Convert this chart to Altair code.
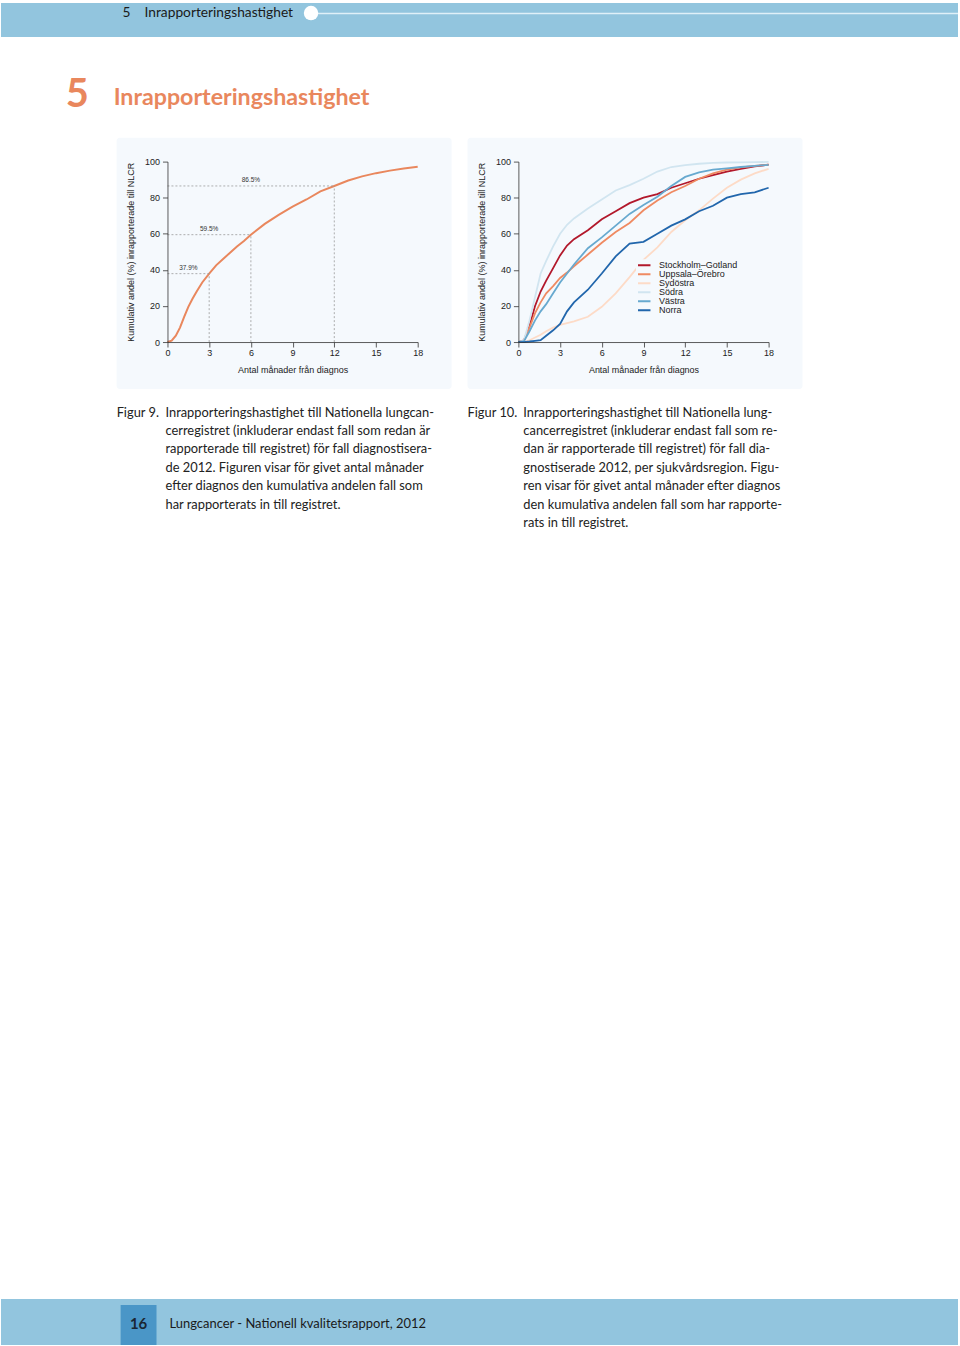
import altair as alt
import pandas as pd

# ---------------- data ----------------
months_all = [0, 0.3, 0.6, 0.9, 1.2, 1.5, 1.8, 2.1, 2.5, 3, 3.5, 4, 4.5, 5, 5.5, 6,
              7, 8, 9, 10, 11, 12, 13, 14, 15, 16, 17, 18]
pct_all = [0, 0.8, 3.5, 8, 14, 19.5, 24, 28, 33, 37.9, 42.5, 46, 49.5, 53, 56, 59.5,
           65.5, 70.5, 75, 79, 83.5, 86.5, 89.5, 91.8, 93.6, 95, 96.2, 97.2]

guide_months = [3, 6, 12]
guide_pct = [37.9, 59.5, 86.5]
guide_labels = ["37.9%", "59.5%", "86.5%"]

months_reg = [0, 0.4, 0.8, 1.2, 1.6, 2, 2.5, 3, 3.5, 4, 5, 6, 7, 8, 9, 10, 11, 12,
              13, 14, 15, 16, 17, 18]
regions = ["Stockholm–Gotland", "Uppsala–Örebro", "Sydöstra", "Södra", "Västra", "Norra"]
region_colors = ["#b2182b", "#ef8a62", "#fddbc7", "#d1e5f0", "#67a9cf", "#2166ac"]
stockholm = [0, 1, 9, 20, 28, 34, 41, 48, 53.5, 57, 62, 68, 72.5, 77, 80, 82, 85.5, 88,
             90.5, 92.5, 94.5, 96, 97.3, 98.3]
uppsala = [0, 0.5, 8, 16, 22, 27, 31, 35.5, 38.5, 42, 48.5, 55, 61, 66, 73, 78.5, 83,
           86.5, 90.5, 93.5, 95.5, 96.8, 97.6, 98.3]
sydostra = [0, 0, 1, 2.5, 4, 6, 8, 9.5, 10.5, 11.5, 14, 19.5, 27, 36, 45.5, 52.5, 61,
            67.5, 73, 79.5, 85.5, 90, 93.5, 96]
sodra = [0, 1, 12, 25, 38, 45, 53, 60, 65, 68.5, 74, 79, 84, 87, 90.5, 94.5, 97, 98,
         98.8, 99.3, 99.5, 99.6, 99.7, 99.8]
vastra = [0, 0.5, 6, 12, 17, 21, 27, 33, 38, 43, 52, 58, 64.5, 71, 76, 80.5, 86.5, 91.5,
          94, 95.5, 96.3, 97, 97.6, 98.2]
norra = [0, 0, 0.3, 0.7, 1, 3.5, 6.5, 10, 17, 22, 29, 38, 47.5, 54.5, 55.5, 60, 64.5,
         68, 72.5, 75.5, 80, 82, 83, 85.5]
series = [stockholm, uppsala, sydostra, sodra, vastra, norra]

x_ticks = [0, 3, 6, 9, 12, 15, 18]
y_ticks = [0, 20, 40, 60, 80, 100]

x_title = "Antal månader från diagnos"
y_title = "Kumulativ andel (%) inrapporterade till NLCR"

caption1_head = "Figur 9."
caption1 = [
    "Inrapporteringshastighet till Nationella lungcan-",
    "cerregistret (inkluderar endast fall som redan är",
    "rapporterade till registret) för fall diagnostisera-",
    "de 2012. Figuren visar för givet antal månader",
    "efter diagnos den kumulativa andelen fall som",
    "har rapporterats in till registret.",
]
caption2_head = "Figur 10."
caption2 = [
    "Inrapporteringshastighet till Nationella lung-",
    "cancerregistret (inkluderar endast fall som re-",
    "dan är rapporterade till registret) för fall dia-",
    "gnostiserade 2012, per sjukvårdsregion. Figu-",
    "ren visar för givet antal månader efter diagnos",
    "den kumulativa andelen fall som har rapporte-",
    "rats in till registret.",
]
header_num = "5"
header_title = "Inrapporteringshastighet"
footer_page = "16"
footer_text = "Lungcancer - Nationell kvalitetsrapport, 2012"

# ---------------- tables ----------------
df_all = pd.DataFrame({"month": months_all, "pct": pct_all})
df_guides = pd.DataFrame({"month": guide_months, "pct": guide_pct, "label": guide_labels})
df_guides["zero"] = 0
df_guides["half"] = df_guides["month"] / 2
rows = []
for r, vals in zip(regions, series):
    for m, v in zip(months_reg, vals):
        rows.append({"region": r, "month": m, "pct": v})
df_reg = pd.DataFrame(rows)
one = alt.InlineData(values=[{"a": 1}])

W, H = 251, 181
PANEL_BG = "#f5f9fd"
ORANGE = "#e9875d"
BAND = "#92c5de"
AXFONT = "Liberation Sans"
PAGEFONT = "Lato"
CAP = 12.9

xscale = alt.Scale(domain=[0, 18], nice=False, zero=False)
yscale = alt.Scale(domain=[0, 100], nice=False)
xaxis = alt.Axis(values=x_ticks, title=x_title, labelPadding=2, titlePadding=8, zindex=1,
                 labelFlush=False, labelOverlap=False)
yaxis = alt.Axis(values=y_ticks, title=y_title, labelPadding=3, titlePadding=9, zindex=1,
                 labelFlush=False, labelOverlap=False)


def X(field):
    return alt.X(field, scale=xscale, axis=xaxis)


def Y(field):
    return alt.Y(field, scale=yscale, axis=yaxis)


def rect(x1, x2, y1, y2, color, radius=0):
    return alt.Chart(one).mark_rect(color=color, cornerRadius=radius).encode(
        x=alt.value(x1), x2=alt.value(x2), y=alt.value(y1), y2=alt.value(y2))


def text(x, y, t, size, color="#222222", font=PAGEFONT, weight="normal", align="left",
         line_height=None):
    kw = dict(font=font, fontSize=size, color=color, fontWeight=weight, align=align,
              baseline="alphabetic")
    if line_height is not None:
        kw["lineHeight"] = line_height
    return alt.Chart(one).mark_text(**kw).encode(
        x=alt.value(x), y=alt.value(y), text=alt.value(t))


# page-level decorations (coordinates relative to panel-1 plot origin at page (167,159))
page_bg = rect(-167, 793, -159, 1187, "#ffffff")
header_band = rect(-167, 793, -159, -125, BAND)
header_line = alt.Chart(one).mark_rule(color="#dff0f8", strokeWidth=1.6).encode(
    x=alt.value(151), x2=alt.value(793), y=alt.value(-148.5))
header_dot = alt.Chart(one).mark_circle(color="#ffffff", opacity=1, size=210).encode(
    x=alt.value(144), y=alt.value(-149))
header_t1 = text(-45, -145, header_num, 13.8, color="#1a1a1a")
header_t2 = text(-23, -145, header_title, 13.8, color="#1a1a1a")
title_num = text(-102, -55, header_num, 40, color=ORANGE, weight="bold")
title_txt = text(-54, -57, header_title, 23.3, color=ORANGE, weight="bold")
footer_band = rect(-167, 793, 1141, 1187, BAND)
footer_box = rect(-47, -11, 1147, 1187, "#4a96c7")
footer_num = text(-29, 1171, footer_page, 15, color="#1a2633", weight="bold", align="center")
footer_txt = text(2, 1170, footer_text, 13, color="#1a1a1a")
panel1_bg = rect(-51, 285, -24, 228, PANEL_BG, 3)
cap1_head = text(-51, 256, caption1_head, CAP)
cap1_body = text(-2, 256, caption1, CAP, line_height=18.4)

curve1 = alt.Chart(df_all).mark_line(color=ORANGE, strokeWidth=2).encode(
    x=X("month:Q"), y=Y("pct:Q"))
g_h = alt.Chart(df_guides).mark_rule(color="#9a9a9a", strokeDash=[2, 2], strokeWidth=0.8).encode(
    x=X("zero:Q"), x2="month:Q", y=Y("pct:Q"))
g_v = alt.Chart(df_guides).mark_rule(color="#9a9a9a", strokeDash=[2, 2], strokeWidth=0.8).encode(
    x=X("month:Q"), y=Y("zero:Q"), y2="pct:Q")
g_t = alt.Chart(df_guides).mark_text(font=AXFONT, fontSize=6.5, color="#333333", dy=-4,
                                     baseline="alphabetic").encode(
    x=X("half:Q"), y=Y("pct:Q"), text="label:N")

panel1 = alt.layer(
    page_bg, header_band, header_line, header_dot, header_t1, header_t2,
    title_num, title_txt, footer_band, footer_box, footer_num, footer_txt,
    panel1_bg, cap1_head, cap1_body, curve1, g_h, g_v, g_t,
).properties(width=W, height=H)

# panel 2 (coordinates relative to panel-2 plot origin at page (519,159))
panel2_bg = rect(-51, 285, -24, 228, PANEL_BG, 3)
cap2_head = text(-51, 256, caption2_head, CAP)
cap2_body = text(5, 256, caption2, CAP, line_height=18.4)
curves2 = alt.Chart(df_reg).mark_line(strokeWidth=1.8).encode(
    x=X("month:Q"),
    y=Y("pct:Q"),
    color=alt.Color("region:N", sort=regions,
                    scale=alt.Scale(domain=regions, range=region_colors),
                    legend=alt.Legend(title=None, orient="none", legendX=470, legendY=98,
                                      symbolType="M-4.5,0H4", symbolSize=16,
                                      symbolStrokeWidth=2, labelFont=AXFONT,
                                      labelFontSize=9, labelColor="#222222",
                                      labelOffset=12, rowPadding=0, clipHeight=8,
                                      padding=2, fillColor=PANEL_BG)),
    order=alt.Order("region:N"),
)
panel2 = alt.layer(panel2_bg, cap2_head, cap2_body, curves2).properties(width=W, height=H)

chart = alt.hconcat(panel1, panel2, spacing=101, bounds="flush").properties(
    padding=0, background="#ffffff"
).configure_view(stroke="transparent").configure_axis(
    grid=False, domainColor="#333333", tickColor="#333333", tickSize=5,
    labelFont=AXFONT, titleFont=AXFONT, labelFontSize=9, titleFontSize=9,
    labelColor="#222222", titleColor="#222222", titleFontWeight="normal",
    domainWidth=0.8, tickWidth=0.8,
)

chart.save("out.html", embed_options={"renderer": "svg", "actions": False})
